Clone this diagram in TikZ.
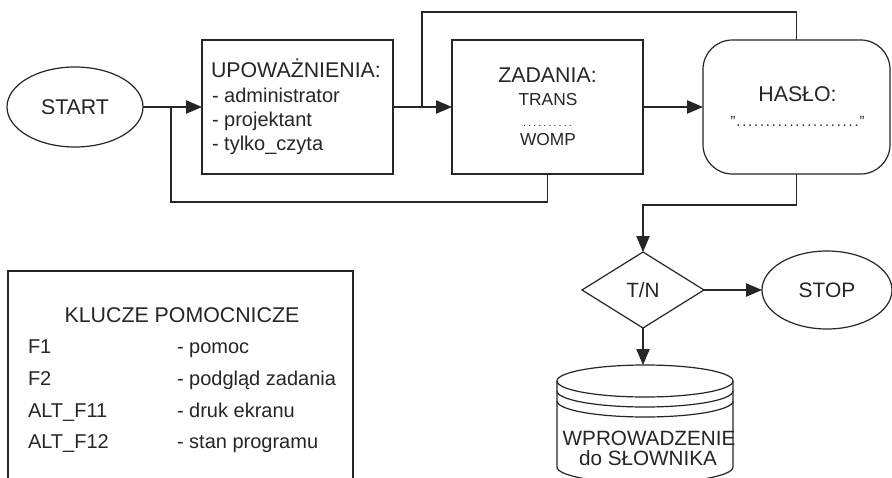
\documentclass[tikz,border=0pt]{standalone}
\usepackage{fontspec}
\setmainfont{Liberation Sans}
\usetikzlibrary{shapes.geometric,arrows.meta}
\definecolor{ink}{RGB}{38,38,38}
\newcommand\fhead{\fontsize{16pt}{19pt}\selectfont}
\newcommand\fitem{\fontsize{15pt}{18pt}\selectfont}
\newcommand\fsub{\fontsize{13pt}{15pt}\selectfont}
\newcommand\dotrow[2]{\hbox to #1{\xleaders\hbox to #2{\hss.\hss}\hfill}}
\begin{document}
\begin{tikzpicture}[x=0.75pt,y=-0.75pt,
  every node/.style={text=ink, inner sep=0pt, outer sep=0pt},
  line/.style={draw=ink, line width=0.9pt},
  arr/.style={line, -{Triangle[length=12pt,width=10pt]}},
  procbox/.style={line, rectangle, minimum width=143.25pt, minimum height=100.5pt},
  term/.style={line, ellipse, font=\fhead},
  lbl/.style={anchor=base west},
  ctr/.style={anchor=base}
]
% canvas
\fill[white] (0,0) rectangle (892,478);
\useasboundingbox (0,0) rectangle (892,478);

% rails used by the loop connectors
\coordinate (toprail) at (0,12);
\coordinate (lowrail) at (0,202);
\coordinate (midrail) at (0,205);

% main row
\node[term, minimum width=102pt, minimum height=60pt] (start) at (75,107) {START};
\node[procbox] (upow) at (297.5,107) {};
\node[procbox] (zad) at (547.5,107) {};
\node[line, rectangle, rounded corners=22pt, minimum width=140.25pt, minimum height=100.5pt] (haslo) at (796.5,107) {};

% box texts
\node[lbl, font=\fhead] (upowT) at (211,78) {UPOWAŻNIENIA:};
\node[lbl, font=\fitem] (u1) at (212,103) {- administrator};
\node[lbl, font=\fitem] (u2) at (212,127) {- projektant};
\node[lbl, font=\fitem] (u3) at (212,150) {- tylko\_czyta};

\node[ctr, font=\fhead] (zadT) at (547.5,83) {ZADANIA:};
\node[ctr, font=\fsub] (z1) at (548,105) {TRANS};
\node[ctr, font=\fontsize{8pt}{9pt}\selectfont] (zdots) at (547.5,126) {\dotrow{38pt}{3.8pt}};
\node[ctr, font=\fsub] (z2) at (548,145) {WOMP};

\node[ctr, font=\fhead] (hasloT) at (797.5,102) {HASŁO:};
\node[ctr, font=\fontsize{11pt}{13pt}\selectfont] (hdots) at (797.5,126) {\char34\dotrow{93pt}{4.4pt}\char34};

% decision and end
\node[line, diamond, aspect=1.6, minimum width=91.5pt, minimum height=57pt, font=\fontsize{15.5pt}{18pt}\selectfont] (tn) at (643,290) {T/N};
\node[term, minimum width=97.5pt, minimum height=58.5pt, font=\fontsize{15.7pt}{18pt}\selectfont] (stop) at (827,290) {STOP};

% data store (cylinder with banded top)
\coordinate (db) at (643,365);
\draw[line] (645,381) ellipse [x radius=66pt, y radius=12pt];
\draw[line] (557,391) arc [start angle=180, end angle=360, x radius=66pt, y radius=12pt];
\draw[line] (557,401) arc [start angle=180, end angle=360, x radius=66pt, y radius=12pt];
\draw[line] (557,381) -- (557,467) arc [start angle=180, end angle=360, x radius=66pt, y radius=12pt] -- (733,381);
\node[ctr, font=\fontsize{15.5pt}{18pt}\selectfont] (dbT1) at (649,445) {WPROWADZENIE};
\node[ctr, font=\fontsize{15.5pt}{18pt}\selectfont] (dbT2) at (648,465) {do SŁOWNIKA};

% connectors
\draw[arr] (start) -- (upow);
\draw[arr] (upow) -- (zad);
\draw[arr] (zad) -- (haslo);
\coordinate (j1) at (422,107);
\draw[line] (j1) |- (haslo.north |- toprail) -- (haslo.north);
\coordinate (j0) at (171,107);
\draw[line] (j0) |- (zad.south |- lowrail) -- (zad.south);
\draw[arr] (haslo.south) -- (haslo.south |- midrail) -| (tn.north);
\draw[arr] (tn) -- (stop);
\draw[arr] (tn.south) -- (db);

% legend of helper keys
\draw[line] (8,480) -- (8,271) -- (353,271) -- (353,480);
\node[ctr, font=\fhead] (keysT) at (182,322) {KLUCZE POMOCNICZE};
\node[lbl, font=\fitem] (k1) at (28,353) {F1};
\node[lbl, font=\fitem] (k2) at (28,385) {F2};
\node[lbl, font=\fitem] (k3) at (28,417) {ALT\_F11};
\node[lbl, font=\fitem] (k4) at (28,448) {ALT\_F12};
\node[lbl, font=\fitem] (d1) at (177,353) {- pomoc};
\node[lbl, font=\fitem] (d2) at (177,385) {- podgląd zadania};
\node[lbl, font=\fitem] (d3) at (177,417) {- druk ekranu};
\node[lbl, font=\fitem] (d4) at (177,448) {- stan programu};
\end{tikzpicture}
\end{document}
